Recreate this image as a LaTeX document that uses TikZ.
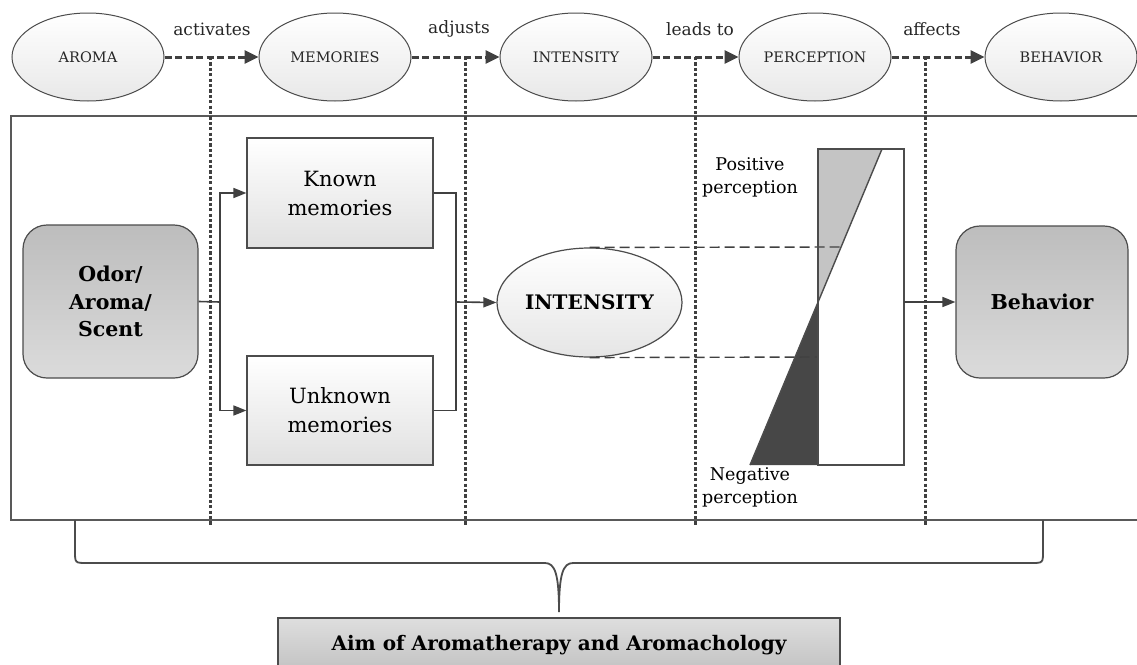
\documentclass[tikz,border=0pt]{standalone}
\usepackage{fontspec}
\setmainfont{DejaVu Serif}
\usetikzlibrary{arrows.meta,shapes.geometric,calc}
\begin{document}
\begin{tikzpicture}[x=1pt,y=-1pt,
  topell/.style={ellipse, draw=black!70, line width=1pt, top color=white, bottom color=black!9,
     minimum width=152pt, minimum height=88pt, inner sep=0pt, text=black!85,
     font=\fontsize{14.5}{16}\selectfont},
  toplabel/.style={text=black!85, font=\fontsize{17}{19}\selectfont, inner sep=0pt},
  flow/.style={dash pattern=on 7pt off 3.5pt, line width=3pt, draw=black!75,
     -{Triangle[length=14pt,width=13pt]}},
  sep/.style={dash pattern=on 3.2pt off 2.2pt, line width=3pt, draw=black!75},
  membox/.style={rectangle, draw=black!70, line width=1.2pt, top color=white, bottom color=black!12,
     minimum width=186pt, minimum height=110pt, align=center, inner sep=0pt,
     font=\fontsize{21}{29}\selectfont},
  graybox/.style={rectangle, rounded corners=24pt, draw=black!70, line width=1.2pt,
     top color=black!26, bottom color=black!14, align=center, inner sep=0pt,
     font=\bfseries\fontsize{20.5}{27.5}\selectfont},
  conn/.style={line width=1.6pt, draw=black!75, -{Triangle[length=13pt,width=10pt]}},
  plain/.style={line width=1.6pt, draw=black!75},
  guide/.style={dash pattern=on 10pt off 5pt, line width=1.4pt, draw=black!75},
  small/.style={align=center, inner sep=0pt, font=\fontsize{17.5}{23}\selectfont}
]
\useasboundingbox (0,0) rectangle (1137,664);
\fill[white] (0,0) rectangle (1137,664);

% outer frame
\draw[black!65, line width=1.8pt] (1140,116) -- (11,116) -- (11,520) -- (1140,520);

% top row
\node[topell] (aroma) at (88,57) {AROMA};
\node[topell] (memories) at (335,57) {MEMORIES};
\node[topell] (intensity) at (576,57) {INTENSITY};
\node[topell] (perception) at (815,57) {PERCEPTION};
\node[topell] (behav) at (1061,57) {BEHAVIOR};

\node[toplabel] (l1) at (212,29) {activates};
\node[toplabel] (l2) at (459,29) {adjusts};
\node[toplabel] (l3) at (700,29) {leads to};
\node[toplabel] (l4) at (932,29) {affects};

\draw[flow] (aroma.east) -- (memories.west);
\draw[flow] (memories.east) -- (intensity.west);
\draw[flow] (intensity.east) -- (perception.west);
\draw[flow] (perception.east) -- (behav.west);

\coordinate (j1) at (210,57);  \coordinate (j1b) at (210,526);
\coordinate (j2) at (465,57);  \coordinate (j2b) at (465,526);
\coordinate (j3) at (695,57);  \coordinate (j3b) at (695,526);
\coordinate (j4) at (925,57);  \coordinate (j4b) at (925,526);
\draw[sep] (j1) -- (j1b);
\draw[sep] (j2) -- (j2b);
\draw[sep] (j3) -- (j3b);
\draw[sep] (j4) -- (j4b);

% body
\node[graybox, minimum width=175pt, minimum height=153pt] (odor) at (110.5,301.5) {Odor/\\Aroma/\\Scent};
\node[membox] (known) at (340,193) {Known\\memories};
\node[membox, minimum height=109pt] (unknown) at (340,410.5) {Unknown\\memories};
\node[ellipse, draw=black!70, line width=1.2pt, top color=white, bottom color=black!10,
      minimum width=185pt, minimum height=109pt, inner sep=0pt,
      font=\bfseries\fontsize{20}{24}\selectfont] (intens) at (589.5,302.5) {INTENSITY};
\node[graybox, minimum width=172pt, minimum height=152pt] (behavior) at (1042,302) {Behavior};

\coordinate (s1) at (220,302);
\draw[plain] (odor.east) -- (s1);
\draw[conn] (s1) |- (known.west);
\draw[conn] (s1) |- (unknown.west);
\coordinate (m1) at (456,302);
\draw[plain] (known.east) -| (m1);
\draw[plain] (unknown.east) -| (m1);
\draw[conn] (m1) -- (intens.west);

% perception gauge
\coordinate (gTL) at (818,149);
\coordinate (gBR) at (904,465);
\coordinate (gTop) at (882,149);
\coordinate (gMid) at (818,302);
\coordinate (gBot) at (750,465);
\coordinate (gBL) at (818,465);
\fill[black!23] (gTL) -- (gTop) -- (gMid) -- cycle;
\fill[black!72] (gMid) -- (gBot) -- (gBL) -- cycle;

\coordinate (d1) at (841,247);
\coordinate (d2) at (818,357);
\draw[guide] (intens.north) -- (d1);
\draw[guide] (intens.south) -- (d2);

\draw[black!70, line width=1.4pt] (gTL) rectangle (gBR);
\draw[black!70, line width=1.4pt] (gTop) -- (gBot);

\coordinate (pr) at (904,302);
\draw[conn] (pr) -- (behavior.west);

\node[small] (pos) at (750,177) {Positive\\perception};
\node[small] (neg) at (750,487) {Negative\\perception};

% brace and aim box
\node[rectangle, draw=black!70, line width=1.3pt, top color=black!13, bottom color=black!24,
      minimum width=562pt, minimum height=54pt, inner sep=0pt,
      font=\bfseries\fontsize{20}{23}\selectfont] (aim) at (559,645) {Aim of Aromatherapy and Aromachology};
\coordinate (bL) at (75,520);
\coordinate (bR) at (1043,520);
\coordinate (bT) at (559,612);
\draw[black!70, line width=1.8pt]
  (bL) -- (75,551) .. controls (75,563) .. (87,563) -- (545,563)
  .. controls (555,563) and (559,574) .. (bT)
  .. controls (559,574) and (563,563) .. (573,563) -- (1031,563)
  .. controls (1043,563) .. (1043,551) -- (bR);
\end{tikzpicture}
\end{document}
